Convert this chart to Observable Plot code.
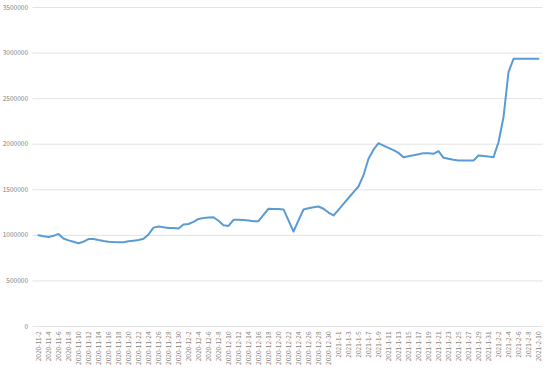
<!DOCTYPE html>
<html>
<head>
<meta charset="utf-8">
<script src="https://cdn.jsdelivr.net/npm/d3@7"></script>
<script src="https://cdn.jsdelivr.net/npm/@observablehq/plot@0.6"></script>
<style>
  html, body { margin: 0; padding: 0; background: #fff; }
  #chart svg { display: block; font-family: "Noto Sans CJK SC", "DejaVu Sans", sans-serif; }
</style>
</head>
<body>
<div id="chart"></div>
<script>
// Daily dates 2020-11-2 .. 2021-2-10 (category axis)
const startDate = new Date(2020, 10, 2);
const endDate = new Date(2021, 1, 11);
const dates = d3.timeDay.range(startDate, endDate).map(d => `${d.getFullYear()}-${d.getMonth() + 1}-${d.getDate()}`);

// Values (one per day)
const values = [
  1000000, 990000, 982000, 995000, 1016000, 965000, 945000, 930000, 914000, 930000,
  960000, 960000, 948000, 938000, 930000, 926000, 925000, 925000, 935000, 942000,
  950000, 962000, 1010000, 1085000, 1097000, 1088000, 1082000, 1080000, 1075000, 1120000,
  1125000, 1148000, 1180000, 1190000, 1195000, 1199000, 1160000, 1110000, 1103000, 1170000,
  1170000, 1168000, 1163000, 1155000, 1155000, 1225000, 1292000, 1290000, 1288000, 1285000,
  1165000, 1042000, 1165000, 1284000, 1298000, 1308000, 1317000, 1292000, 1250000, 1218000,
  1280000, 1345000, 1410000, 1475000, 1536000, 1660000, 1840000, 1940000, 2011000, 1985000,
  1960000, 1935000, 1905000, 1858000, 1868000, 1880000, 1890000, 1902000, 1902000, 1895000,
  1924000, 1851000, 1840000, 1830000, 1822000, 1821000, 1821000, 1821000, 1876000, 1870000,
  1864000, 1858000, 2022000, 2296000, 2790000, 2937000, 2937000, 2937000, 2937000, 2937000,
  2937000
];

const yTicks = [0, 500000, 1000000, 1500000, 2000000, 2500000, 3000000, 3500000];
const xTicks = dates.filter((d, i) => i % 2 === 0);

const data = dates.map((d, i) => ({date: d, value: values[i]}));

const chart = Plot.plot({
  width: 554,
  height: 368,
  marginLeft: 32.5,
  marginRight: 11.5,
  marginTop: 7,
  marginBottom: 42,
  style: {background: "#fff", color: "#7f7f7f"},
  x: {type: "point", domain: dates, padding: 0, label: null},
  y: {domain: [0, 3500000], label: null},
  marks: [
    Plot.gridY(yTicks, {stroke: "#e3e3e3", strokeOpacity: 1, strokeWidth: 1}),
    Plot.axisY(yTicks, {tickSize: 0, tickPadding: 5, fontSize: 6.5, tickFormat: d => String(d), fill: "#7f7f7f", label: null}),
    Plot.axisX(xTicks, {tickSize: 0, tickPadding: 5, tickRotate: -90, fontSize: 6.5, fill: "#7f7f7f", label: null}),
    Plot.line(data, {x: "date", y: "value", stroke: "#5b9bd5", strokeWidth: 2})
  ]
});
document.getElementById("chart").append(chart);
</script>
</body>
</html>
